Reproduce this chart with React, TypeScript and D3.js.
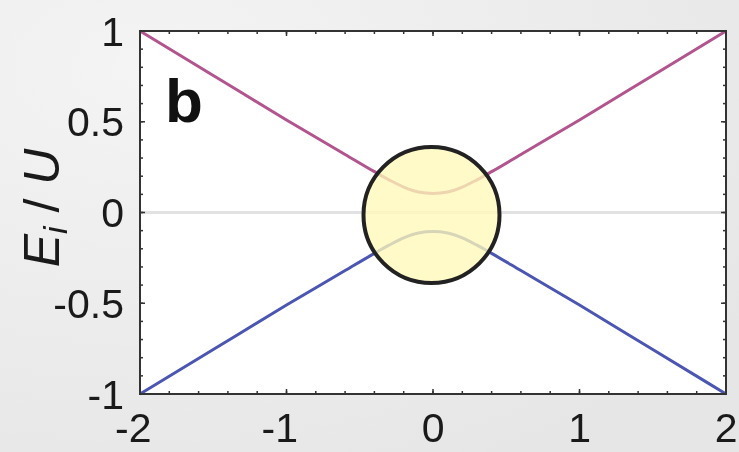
import React from "react";
import * as d3 from "d3";

// Energy levels of the two branches (E_i / U) against detuning
const detuning = [-2, -1.5, -1, -0.6, -0.4, -0.3, -0.2, -0.1, 0, 0.1, 0.2, 0.3, 0.4, 0.6, 1, 1.5, 2];
const upperLevel = [1, 0.755, 0.51, 0.32, 0.225, 0.18, 0.14, 0.113, 0.105, 0.113, 0.14, 0.18, 0.225, 0.32, 0.51, 0.755, 1];
const lowerLevel = upperLevel.map((v) => -v);
const xTicks = [-2, -1, 0, 1, 2];
const yTicks = [-1, -0.5, 0, 0.5, 1];
const yTickLabels = ["-1", "-0.5", "0", "0.5", "1"];

const W = 739;
const H = 452;
const M = { left: 140, right: 726, top: 31, bottom: 394 };

export default function App() {
  const x = d3.scaleLinear().domain([-2, 2]).range([M.left, M.right]);
  const y = d3.scaleLinear().domain([-1, 1]).range([M.bottom, M.top]);

  const line = d3
    .line<[number, number]>()
    .x((d) => x(d[0]))
    .y((d) => y(d[1]))
    .curve(d3.curveMonotoneX);

  const upper = line(detuning.map((d, i) => [d, upperLevel[i]] as [number, number])) || "";
  const lower = line(detuning.map((d, i) => [d, lowerLevel[i]] as [number, number])) || "";

  const xMinor = d3.range(-2, 2.0001, 0.2);
  const yMinor = d3.range(-1, 1.0001, 0.1);

  const font = "Liberation Sans, Arial, sans-serif";
  const tickFont = 41;

  return (
    <svg
      width={W}
      height={H}
      style={{ position: "fixed", left: 0, top: 0, display: "block" }}
      fontFamily={font}
    >
      <defs>
        <radialGradient id="bg" cx="0.2" cy="0.15" r="1">
          <stop offset="0" stopColor="#f4f4f4" />
          <stop offset="1" stopColor="#e6e6e6" />
        </radialGradient>
      </defs>
      <rect width={W} height={H} fill="url(#bg)" />
      <rect x={M.left} y={M.top} width={M.right - M.left} height={M.bottom - M.top} fill="#fff" />

      {/* zero reference */}
      <line x1={M.left} x2={M.right} y1={y(0)} y2={y(0)} stroke="#e2e2e2" strokeWidth={3} />

      <path d={upper} fill="none" stroke="#b2558e" strokeWidth={3} />
      <path d={lower} fill="none" stroke="#4b56b2" strokeWidth={3} />

      {/* minor ticks */}
      {xMinor.map((t, i) => (
        <g key={"xm" + i}>
          <line x1={x(t)} x2={x(t)} y1={M.bottom} y2={M.bottom - 3} stroke="#333" strokeWidth={1.5} />
          <line x1={x(t)} x2={x(t)} y1={M.top} y2={M.top + 3} stroke="#333" strokeWidth={1.5} />
        </g>
      ))}
      {yMinor.map((t, i) => (
        <g key={"ym" + i}>
          <line x1={M.left} x2={M.left + 3} y1={y(t)} y2={y(t)} stroke="#333" strokeWidth={1.5} />
          <line x1={M.right} x2={M.right - 3} y1={y(t)} y2={y(t)} stroke="#333" strokeWidth={1.5} />
        </g>
      ))}
      {xTicks.map((t) => (
        <g key={"xt" + t}>
          <line x1={x(t)} x2={x(t)} y1={M.bottom} y2={M.bottom - 5} stroke="#333" strokeWidth={1.5} />
          <line x1={x(t)} x2={x(t)} y1={M.top} y2={M.top + 5} stroke="#333" strokeWidth={1.5} />
          {/* digit centred on the tick, minus sign hanging to the left */}
          <text x={x(t) + 11.5} y={M.bottom + 48} fontSize={tickFont} textAnchor="end" fill="#1a1a1a">
            {t}
          </text>
        </g>
      ))}
      {yTicks.map((t, i) => (
        <g key={"yt" + t}>
          <line x1={M.left} x2={M.left + 5} y1={y(t)} y2={y(t)} stroke="#333" strokeWidth={1.5} />
          <line x1={M.right} x2={M.right - 5} y1={y(t)} y2={y(t)} stroke="#333" strokeWidth={1.5} />
          <text x={M.left - 16} y={y(t) + 14.5} fontSize={tickFont} textAnchor="end" fill="#1a1a1a">
            {yTickLabels[i]}
          </text>
        </g>
      ))}

      <rect
        x={M.left}
        y={M.top}
        width={M.right - M.left}
        height={M.bottom - M.top}
        fill="none"
        stroke="#333"
        strokeWidth={2}
      />

      <text x={165} y={122} fontSize={62} fontWeight="bold" fill="#111">
        b
      </text>

      <text
        transform={`translate(59, 208) rotate(-90)`}
        fontSize={50}
        textAnchor="middle"
        fill="#1a1a1a"
      >
        <tspan fontStyle="italic">E</tspan>
        <tspan fontStyle="italic" fontSize={34} dy={8}>i</tspan>
        <tspan dy={-8}> / </tspan>
        <tspan fontStyle="italic">U</tspan>
      </text>

      <circle
        cx={x(0) - 1.5}
        cy={y(0) + 2.5}
        r={68}
        fill="#fff9b8"
        fillOpacity={0.78}
        stroke="#222"
        strokeWidth={4}
      />
    </svg>
  );
}
